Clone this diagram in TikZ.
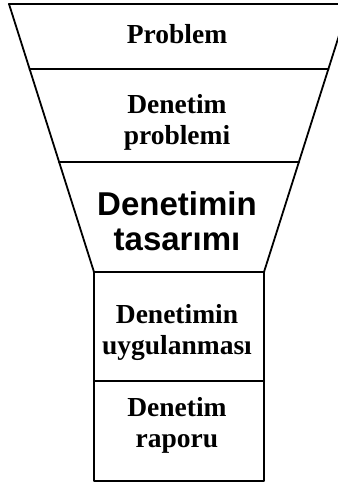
\documentclass[tikz,border=0pt]{standalone}
\usepackage{fontspec}
\setmainfont{Liberation Serif}
\newfontfamily\headfont{Liberation Sans}
\usetikzlibrary{calc}
\tikzset{
  every picture/.style={line join=round, line cap=round},
  wall/.style={line width=1.8pt},
  bar/.style={line width=2.4pt},
  stage/.style={font=\bfseries\fontsize{27.5}{31}\selectfont, align=center, inner sep=0pt},
  focus/.style={font=\headfont\bfseries\fontsize{33}{35}\selectfont, align=center, inner sep=0pt},
}
\begin{document}
\begin{tikzpicture}[x=1pt,y=1pt]
\useasboundingbox (0,0) rectangle (338,483);
\clip (0,0) rectangle (338,483);
% funnel
\coordinate (tl) at (9,479);
\coordinate (tr) at (349,479);
\coordinate (bl) at (94,211);
\coordinate (br) at (264,211);
\draw[wall] (tl) -- (bl);
\draw[wall] (tr) -- (br);
\draw[bar] (tl) -- (tr);
\draw[bar] ($(tl)!0.2425!(bl)$) -- ($(tr)!0.2425!(br)$);
\draw[bar] ($(tl)!0.5896!(bl)$) -- ($(tr)!0.5896!(br)$);
% box below
\coordinate (ml) at (94,102);
\coordinate (mr) at (264,102);
\coordinate (el) at (94,1.8);
\coordinate (er) at (264,1.8);
\draw[bar] (bl) -- (br);
\draw[bar] (ml) -- (mr);
\draw[bar] (bl) -- (el) -- (er) -- (br);
% labels
\node[stage, anchor=base] (problem) at (177,439) {Problem};
\node[stage] (dproblem) at (177,360.7) {Denetim\\problemi};
\node[focus] (design) at (177,261.5) {Denetimin\\tasarımı};
\node[stage] (apply) at (177,150.2) {Denetimin\\uygulanması};
\node[stage] (report) at (177,57.7) {Denetim\\raporu};
\end{tikzpicture}
\end{document}
